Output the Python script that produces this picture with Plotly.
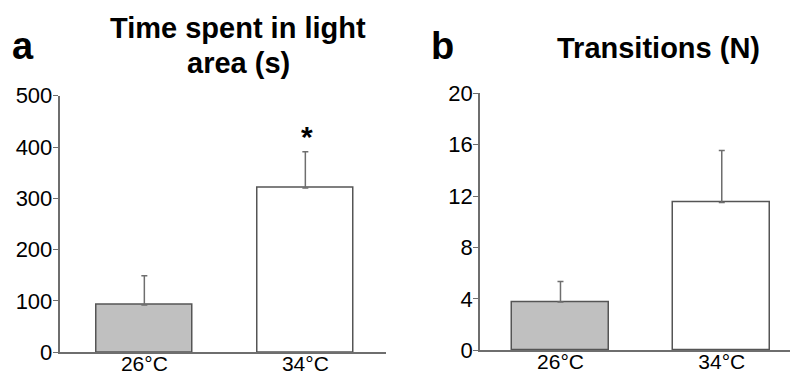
import plotly.graph_objects as go

W, H = 790, 374

categories = ["26°C", "34°C"]
time_means = [92, 320]
time_sem = [57, 71]
trans_means = [3.75, 11.5]
trans_sem = [1.6, 4.05]
bar_colors = ["#c0c0c0", "#ffffff"]
time_ticks = [0, 100, 200, 300, 400, 500]
trans_ticks = [0, 4, 8, 12, 16, 20]

FONT = "Liberation Sans, Arial, sans-serif"
AX = "#6e6e6e"

def px(x):
    return x / W

def py(y):
    return 1 - y / H

fig = go.Figure()
xs = [0, 1]
fig.add_trace(go.Bar(
    x=xs, y=time_means, width=0.6, marker=dict(color=bar_colors, line=dict(color="#555555", width=1.5)),
    error_y=dict(type="data", array=time_sem, arrayminus=[0, 0], symmetric=False, color=AX, thickness=1.5, width=3),
    xaxis="x", yaxis="y", showlegend=False))
fig.add_trace(go.Bar(
    x=xs, y=trans_means, width=0.6, marker=dict(color=bar_colors, line=dict(color="#555555", width=1.5)),
    error_y=dict(type="data", array=trans_sem, arrayminus=[0, 0], symmetric=False, color=AX, thickness=1.5, width=3),
    xaxis="x2", yaxis="y2", showlegend=False))

tickfont = dict(family=FONT, size=22, color="#000000")
xtickfont = dict(family=FONT, size=21, color="#000000")
common_x = dict(showline=True, linecolor=AX, linewidth=1.5, ticks="", showgrid=False, zeroline=False,
                tickvals=xs, ticktext=categories, tickfont=xtickfont, fixedrange=True,
                ticklabelstandoff=-8, automargin=False)
common_y = dict(showline=True, linecolor=AX, linewidth=1.5, ticks="outside", ticklen=5, tickcolor=AX,
                tickwidth=1.2, showgrid=False, zeroline=False, tickfont=tickfont, ticklabelstandoff=-4,
                automargin=False)

fig.update_layout(
    width=W, height=H, margin=dict(l=0, r=0, t=0, b=0),
    paper_bgcolor="white", plot_bgcolor="white", bargap=0,
    xaxis=dict(domain=[px(59.5), px(386)], range=[-0.527, 1.501], anchor="y", **common_x),
    yaxis=dict(domain=[py(352.3), py(95.7)], range=[0, 500], tickvals=time_ticks, anchor="x", **common_y),
    xaxis2=dict(domain=[px(480), 1.0], range=[-0.499, 1.423], anchor="y2", **common_x),
    yaxis2=dict(domain=[py(350.3), py(93.3)], range=[0, 20], tickvals=trans_ticks, anchor="x2", **common_y),
)

bold = lambda s: dict(family=FONT, size=s, color="#000000")
ann = [
    dict(text="<b>Time spent in light</b>", x=px(238), y=py(28), font=bold(29)),
    dict(text="<b>area (s)</b>", x=px(238), y=py(63), font=bold(29)),
    dict(text="<b>Transitions (N)</b>", x=px(658), y=py(48), font=bold(29)),
    dict(text="<b>a</b>", x=px(22.5), y=py(46), font=bold(38)),
    dict(text="<b>b</b>", x=px(442), y=py(46), font=bold(38)),
    dict(text="<b>*</b>", x=px(307), y=py(136), font=bold(30)),
]
for a in ann:
    a.update(xref="paper", yref="paper", xanchor="center", yanchor="middle", showarrow=False)
fig.update_layout(annotations=ann)

fig.write_html("out.html")
